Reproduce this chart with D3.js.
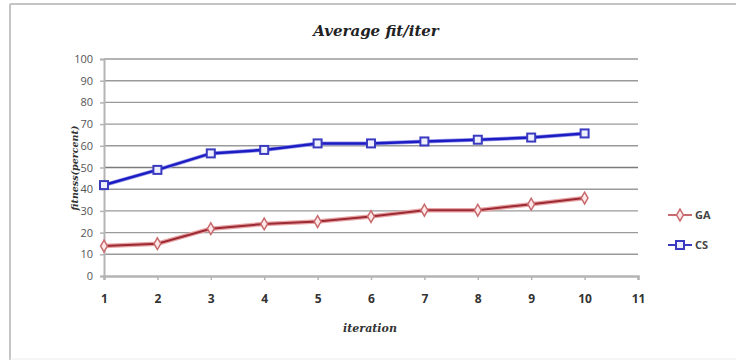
<!DOCTYPE html>
<html>
<head>
<meta charset="utf-8">
<script src="https://cdn.jsdelivr.net/npm/d3@7"></script>
<style>
  html, body { margin: 0; padding: 0; background: #fff; }
  svg { display: block; }
</style>
</head>
<body>
<svg id="chart" width="736" height="360"></svg>
<script>
// Average fitness per iteration for two algorithms
const iterations = [1, 2, 3, 4, 5, 6, 7, 8, 9, 10];
const gaValues = [13.8, 14.9, 21.8, 24.0, 25.1, 27.4, 30.3, 30.3, 33.1, 35.9];
const csValues = [41.9, 48.9, 56.5, 58.1, 61.1, 61.1, 62.0, 62.8, 63.8, 65.7];
const xTicks = [1, 2, 3, 4, 5, 6, 7, 8, 9, 10, 11];
const yTicks = [0, 10, 20, 30, 40, 50, 60, 70, 80, 90, 100];
const seriesNames = ["GA", "CS"];

const svg = d3.select("#chart");

// Outer frame
svg.append("line").attr("x1", 10).attr("x2", 736).attr("y1", 4).attr("y2", 4)
  .attr("stroke", "#c4c4c4").attr("stroke-width", 2);
svg.append("line").attr("x1", 10).attr("x2", 10).attr("y1", 4).attr("y2", 360)
  .attr("stroke", "#c4c4c4").attr("stroke-width", 2);
svg.append("line").attr("x1", 10).attr("x2", 736).attr("y1", 359).attr("y2", 359)
  .attr("stroke", "#ececec").attr("stroke-width", 1);

const x = d3.scaleLinear().domain([1, 11]).range([104, 638]);
const y = d3.scaleLinear().domain([0, 100]).range([276, 59]);

// Horizontal gridlines
svg.append("g").selectAll("line").data(yTicks.filter(d => d > 0)).join("line")
  .attr("x1", x(1)).attr("x2", x(11))
  .attr("y1", d => y(d)).attr("y2", d => y(d))
  .attr("stroke", d => d === 50 ? "#7a7a7a" : "#9a9a9a")
  .attr("stroke-width", 1.4);

// Y axis
const yAxis = d3.axisLeft(y).tickValues(yTicks).tickSize(4).tickPadding(7);
const gy = svg.append("g").attr("transform", `translate(${x(1)},0)`).call(yAxis);
gy.select(".domain").attr("stroke", "#b4b4b4").attr("stroke-width", 2);
gy.selectAll(".tick line").attr("stroke", "#b4b4b4").attr("stroke-width", 1.5);
gy.selectAll(".tick text").attr("fill", "#555").attr("font-size", 11)
  .attr("font-family", "'Open Sans', 'Noto Sans', sans-serif");

// X axis
const xAxis = d3.axisBottom(x).tickValues(xTicks).tickSize(4).tickPadding(14);
const gx = svg.append("g").attr("transform", `translate(0,${y(0)})`).call(xAxis);
gx.select(".domain").attr("stroke", "#b4b4b4").attr("stroke-width", 2.5);
gx.selectAll(".tick line").attr("stroke", "#b4b4b4").attr("stroke-width", 1.5);
gx.selectAll(".tick text").attr("fill", "#333").attr("font-size", 12)
  .attr("font-weight", "bold")
  .attr("font-family", "'Open Sans', 'Noto Sans', sans-serif");

// Lines
const line = d3.line().x((d, i) => x(iterations[i])).y(d => y(d));

// GA: dark red line with a soft lighter halo
svg.append("path").datum(gaValues).attr("d", line)
  .attr("fill", "none").attr("stroke", "#e8a4a4").attr("stroke-width", 4.5);
svg.append("path").datum(gaValues).attr("d", line)
  .attr("fill", "none").attr("stroke", "#9c2a35").attr("stroke-width", 2);

// CS: blue line
svg.append("path").datum(csValues).attr("d", line)
  .attr("fill", "none").attr("stroke", "#9c9ce8").attr("stroke-width", 4);
svg.append("path").datum(csValues).attr("d", line)
  .attr("fill", "none").attr("stroke", "#1c1cc4").attr("stroke-width", 2.5);

const diamond = d3.symbol().type(d3.symbolDiamond).size(40);
function gaMarker(sel) {
  sel.attr("d", diamond).attr("fill", "#fde9e9")
    .attr("stroke", "#c86a6e").attr("stroke-width", 1.5);
}
function csMarker(sel) {
  sel.attr("x", -4).attr("y", -4).attr("width", 8).attr("height", 8)
    .attr("fill", "#eef0ff").attr("stroke", "#3a3ac0").attr("stroke-width", 2);
}

svg.append("g").selectAll("path").data(gaValues).join("path")
  .attr("transform", (d, i) => `translate(${x(iterations[i])},${y(d)})`)
  .call(gaMarker);

svg.append("g").selectAll("rect").data(csValues).join("rect")
  .attr("transform", (d, i) => `translate(${x(iterations[i])},${y(d)})`)
  .call(csMarker);

// Legend
const legend = svg.append("g");
const legendRows = [
  { name: seriesNames[0], yPos: 215, color: "#c86a6e" },
  { name: seriesNames[1], yPos: 245, color: "#3a3ac0" }
];
legendRows.forEach((r, idx) => {
  legend.append("line").attr("x1", 668).attr("x2", 692)
    .attr("y1", r.yPos).attr("y2", r.yPos)
    .attr("stroke", r.color).attr("stroke-width", 2);
  if (idx === 0) {
    legend.append("path").attr("transform", `translate(680,${r.yPos})`).call(gaMarker);
  } else {
    legend.append("rect").attr("transform", `translate(680,${r.yPos})`).call(csMarker);
  }
  legend.append("text").attr("x", 695).attr("y", r.yPos + 4)
    .attr("font-size", 11).attr("font-weight", "bold").attr("fill", "#444")
    .attr("font-family", "'Open Sans', 'Noto Sans', sans-serif")
    .text(r.name);
});

// Title and axis labels
svg.append("text").attr("x", 376).attr("y", 36).attr("text-anchor", "middle")
  .attr("font-family", "'DejaVu Serif', 'Liberation Serif', serif")
  .attr("font-style", "italic").attr("font-weight", "bold")
  .attr("font-size", 15).attr("fill", "#222")
  .text("Average fit/iter");

svg.append("text").attr("transform", "translate(78,168) rotate(-90)")
  .attr("text-anchor", "middle")
  .attr("font-family", "'DejaVu Serif', 'Liberation Serif', serif")
  .attr("font-style", "italic").attr("font-weight", "bold")
  .attr("font-size", 9.5).attr("fill", "#333")
  .text("fitness(percent)");

svg.append("text").attr("x", 370).attr("y", 332).attr("text-anchor", "middle")
  .attr("font-family", "'DejaVu Serif', 'Liberation Serif', serif")
  .attr("font-style", "italic").attr("font-weight", "bold")
  .attr("font-size", 11).attr("fill", "#333")
  .text("iteration");
</script>
</body>
</html>
